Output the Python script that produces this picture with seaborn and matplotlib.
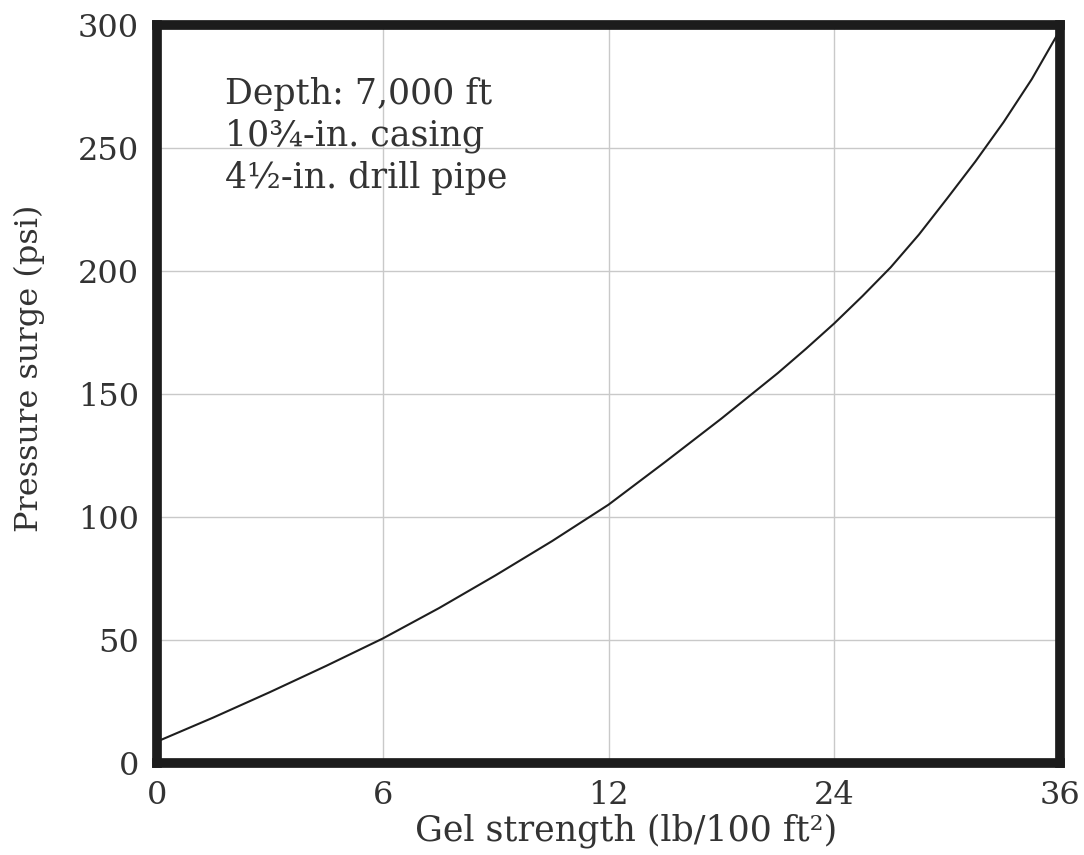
import matplotlib
matplotlib.use("Agg")
import matplotlib.pyplot as plt
import pandas as pd
import seaborn as sns

# x axis is drawn at equal spacing for the ticks 0, 6, 12, 24, 36
gel_ticks = [0, 6, 12, 24, 36]
gel_tick_labels = ["0", "6", "12", "24", "36"]

# curve, x given in tick-slot units (0..4)
gel_pos = [0.0, 0.25, 0.5, 0.75, 1.0, 1.25, 1.5, 1.75, 2.0,
           2.25, 2.5, 2.75, 2.875, 3.0, 3.125, 3.25, 3.375, 3.5,
           3.625, 3.75, 3.875, 4.0]
surge_psi = [8.7, 18.5, 28.8, 39.5, 50.6, 63.0, 76.3, 90.2, 105.0,
             122.3, 140.0, 158.5, 168.4, 178.7, 189.8, 201.5, 214.8, 229.5,
             244.5, 260.5, 278.0, 298.0]

y_ticks = [0, 50, 100, 150, 200, 250, 300]

note_lines = ["Depth: 7,000 ft", "10¾-in. casing", "4½-in. drill pipe"]

sns.set_theme(style="whitegrid")
plt.rcParams["font.family"] = ["DejaVu Serif", "DejaVu Sans"]

df = pd.DataFrame({"pos": gel_pos, "surge": surge_psi})

fig = plt.figure(figsize=(10.84, 8.55), dpi=100)
ax = fig.add_axes([0.1448, 0.1076, 0.8331, 0.8632])
ax.set_facecolor("white")

sns.lineplot(data=df, x="pos", y="surge", ax=ax, color="#1e1e1e",
             linewidth=1.5, errorbar=None)

ax.set_xlim(0, len(gel_ticks) - 1)
ax.set_ylim(0, 300)
ax.set_xticks(range(len(gel_ticks)))
ax.set_xticklabels(gel_tick_labels)
ax.set_yticks(y_ticks)
ax.set_yticklabels([str(v) for v in y_ticks])

ax.grid(True, color="#c9c9c9", linewidth=1.0)
for side in ["left", "right", "top", "bottom"]:
    ax.spines[side].set_visible(True)
    ax.spines[side].set_color("#1c1c1c")
    ax.spines[side].set_linewidth(7)

ax.tick_params(axis="both", length=0, labelsize=23, colors="#333333")
ax.tick_params(axis="y", pad=13)
ax.tick_params(axis="x", pad=12)

ax.set_xlabel("Gel strength (lb/100 ft²)", fontsize=25, color="#333333")
ax.set_ylabel("Pressure surge (psi)", fontsize=23, color="#333333")
ax.xaxis.set_label_coords(0.52, -0.068)
ax.yaxis.set_label_coords(-0.124, 0.535)

ax.text(0.075, 0.93, "\n".join(note_lines), transform=ax.transAxes,
        ha="left", va="top", fontsize=25, color="#333333", linespacing=1.3)

fig.savefig("out.png", dpi=100, facecolor="white")
plt.close(fig)
